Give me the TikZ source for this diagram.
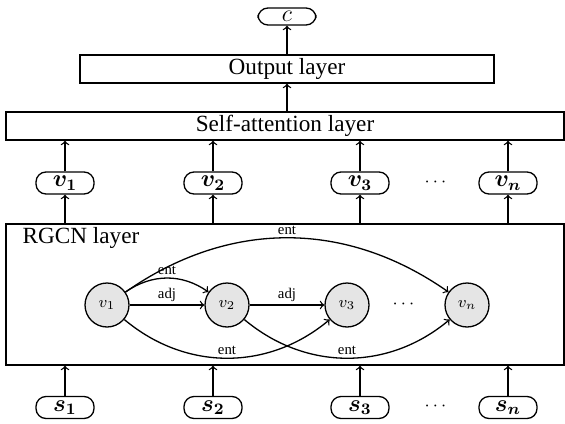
\documentclass[tikz,border=0pt]{standalone}
\usepackage{amsmath}
\usepackage{amssymb}
\usepackage[no-math]{fontspec}
\setmainfont{Liberation Serif}
\usepackage{tikz}
\usetikzlibrary{positioning,calc}
\newcommand{\layerfont}{\fontsize{11.6}{13}\selectfont}

\begin{document}
\begin{tikzpicture}[x=0.5pt, y=0.5pt, line width=0.65pt,
  layerbox/.style={draw, rectangle, minimum height=14pt, inner sep=0pt, font=\layerfont},
  pill/.style={draw, rounded corners=5pt, minimum width=29pt, minimum height=11pt, inner sep=1pt, font=\layerfont},
  gnode/.style={circle, draw, fill=black!10, minimum size=22pt, inner sep=0pt, font=\fontsize{8.5}{9}\selectfont},
  elabel/.style={font=\fontsize{7.4}{8}\selectfont, inner sep=1.5pt},
  dotsnode/.style={font=\fontsize{9}{10}\selectfont, inner sep=0pt},
]
\useasboundingbox (0,0) rectangle (565,423);

\node[pill, minimum height=8.5pt] (c) at (287,406.5) {$c$};
\node[layerbox, minimum width=207pt] (out) at (287,354) {Output layer};
\node[layerbox, minimum width=279pt] (sa) at (285,297) {Self-attention layer};
\node[layerbox, minimum width=279pt, minimum height=70.5pt] (rgcn) at (285,128.5) {};
\node[font=\layerfont, anchor=west, inner sep=0pt] (rlab) at (22,185) {RGCN layer};

\draw[->] (out.north -| c) -- (c.south);
\draw[->] (out.south |- sa.north) -- (out.south);

\foreach \i/\xx in {1/65,2/213,3/360,n/508} {
  \node[pill] (v\i) at (\xx,240) {$\boldsymbol{v_\i}$};
  \node[pill] (s\i) at (\xx,15.5) {$\boldsymbol{s_\i}$};
  \draw[->] (v\i.north) -- (v\i.north |- sa.south);
  \draw[->] (v\i.south |- rgcn.north) -- (v\i.south);
  \draw[->] (s\i.north) -- (s\i.north |- rgcn.south);
}
\node[dotsnode] (vdots) at (437,241) {$\cdots$};
\node[dotsnode] (sdots) at (437,16.5) {$\cdots$};

\foreach \i/\xx in {1/107,2/227,3/347,n/467} {
  \node[gnode] (g\i) at (\xx,118) {$v_\i$};
}
\node[dotsnode] (gdots) at (405,119) {$\cdots$};

\draw[->] (g1) -- node[elabel, above] {adj} (g2);
\draw[->] (g2) -- node[elabel, above] {adj} (g3);
\draw[->] (g1) to[bend left=35] node[elabel, above] {ent} (g2);
\draw[->] (g1) to[bend left=35] node[elabel, above] {ent} (gn);
\draw[->] (g1) to[bend right=40] node[elabel, above] {ent} (g3);
\draw[->] (g2) to[bend right=40] node[elabel, above] {ent} (gn);
\end{tikzpicture}
\end{document}
